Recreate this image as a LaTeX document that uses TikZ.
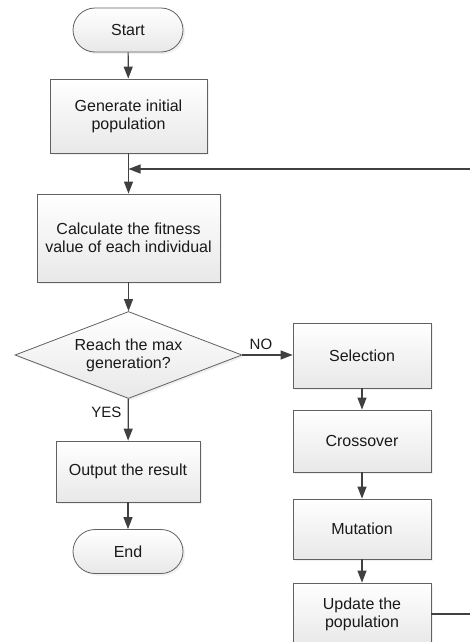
\documentclass[tikz,border=0pt]{standalone}
\usepackage{fontspec}
\setmainfont{Liberation Sans}
\usetikzlibrary{shapes.geometric, arrows.meta, shadows}

\begin{document}
\begin{tikzpicture}[x=1pt, y=-1pt]
    \tikzstyle{blok} = [draw=black!62, line width=0.8pt, top color=white, bottom color=black!9,
                        drop shadow={opacity=0.12, shadow xshift=2pt, shadow yshift=-2pt},
                        align=center, inner sep=0pt, text=black!90,
                        font=\fontsize{16}{18}\selectfont]
    \tikzstyle{term} = [blok, rounded corners=22pt, minimum width=110pt, minimum height=44pt]
    \tikzstyle{proc} = [blok, rectangle]
    \tikzstyle{deci} = [blok, diamond, aspect=2.6, minimum width=227pt, minimum height=87pt]
    \tikzstyle{tran} = [-{Triangle[width=9pt, length=12pt]}, draw=black!75, line width=1.2pt]
    \tikzstyle{eti}  = [font=\fontsize{15}{18}\selectfont, text=black!90]

    % Cadrul imaginii
    \useasboundingbox (0,0) rectangle (470,642);
    \clip (0,0) rectangle (470,642);

    % Coloana principala
    \node[term] (start) at (128,30) {Start};
    \node[proc, minimum width=157pt, minimum height=74pt] (gen) at (128.5,116) {Generate initial\\population};
    \node[proc, minimum width=183pt, minimum height=88pt] (calc) at (128.5,238) {Calculate the fitness\\value of each individual};
    \node[deci] (reach) at (128.5,355) {Reach the max\\generation?};
    \node[proc, minimum width=144pt, minimum height=61pt] (out) at (128,471.5) {Output the result};
    \node[term] (end) at (128,551.5) {End};

    % Coloana operatorilor
    \foreach \nume/\y/\h/\txt in {sel/355.5/65/Selection, cross/441/62/Crossover,
                                  mut/529/60/Mutation, upd/614/62/{Update the\\population}}
        \node[proc, minimum width=138pt, minimum height=\h pt] (\nume) at (362,\y) {\txt};

    % Sagetile
    \draw[tran] (start) -- (gen);
    \draw[tran] (gen) -- (calc);
    \draw[tran] (calc) -- (reach);
    \draw[tran] (reach) -- node[eti, left=3pt, pos=0.33] {YES} (out);
    \draw[tran] (out) -- (end);
    \draw[tran] (reach.east) -- node[eti, above=1pt, pos=0.37] {NO} (reach.east -| sel.west);
    \foreach \a/\b in {sel/cross, cross/mut, mut/upd}
        \draw[tran] (\a) -- (\b);

    % Bucla inapoi
    \coordinate (loopin) at (128.5,169);
    \draw[tran] (upd.east) -- ++(40,0) |- (loopin);
\end{tikzpicture}
\end{document}
